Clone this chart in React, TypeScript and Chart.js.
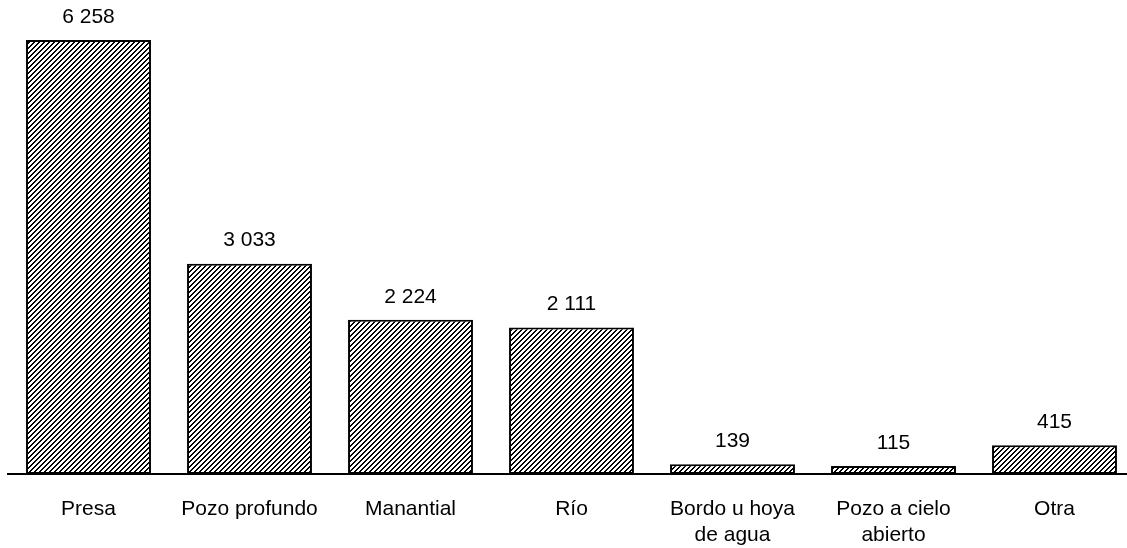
import React, { useEffect, useRef } from "react";
import { Chart, registerables } from "chart.js";

Chart.register(...registerables);

const categories: (string | string[])[] = [
  "Presa",
  "Pozo profundo",
  "Manantial",
  "Río",
  ["Bordo u hoya", "de agua"],
  ["Pozo a cielo", "abierto"],
  "Otra",
];
const values: number[] = [6258, 3033, 2224, 2111, 139, 115, 415];

const FONT = "'Liberation Sans', Arial, sans-serif";

function makePattern(): CanvasPattern | string {
  const size = 5;
  const c = document.createElement("canvas");
  c.width = size;
  c.height = size;
  const ctx = c.getContext("2d");
  if (!ctx) return "#888";
  ctx.fillStyle = "#fff";
  ctx.fillRect(0, 0, size, size);
  ctx.fillStyle = "#000";
  for (let x = 0; x < size; x++) {
    for (let y = 0; y < size; y++) {
      const k = (x + y) % size;
      if (k === 0 || k === 1) ctx.fillRect(x, y, 1, 1);
    }
  }
  const p = ctx.createPattern(c, "repeat");
  return p || "#888";
}

const fmt = (v: number) => v.toString().replace(/\B(?=(\d{3})+(?!\d))/g, " ");

const valueLabels = {
  id: "valueLabels",
  afterDatasetsDraw(chart: any) {
    const ctx = chart.ctx;
    const meta = chart.getDatasetMeta(0);
    ctx.save();
    ctx.font = `21px ${FONT}`;
    ctx.fillStyle = "#000";
    ctx.textAlign = "center";
    ctx.textBaseline = "middle";
    meta.data.forEach((bar: any, i: number) => {
      ctx.fillText(fmt(values[i]), bar.x, bar.y - 23);
    });
    ctx.restore();
  },
};

export default function App() {
  const ref = useRef<HTMLCanvasElement>(null);
  useEffect(() => {
    if (!ref.current) return;
    const chart = new Chart(ref.current, {
      type: "bar",
      data: {
        labels: categories,
        datasets: [
          {
            data: values,
            backgroundColor: makePattern() as any,
            borderColor: "#000",
            borderWidth: 2,
            borderSkipped: false,
            categoryPercentage: 1,
            barPercentage: 0.776,
          },
        ],
      },
      options: {
        animation: false,
        responsive: false,
        layout: { padding: { left: 8, right: 0, top: 0, bottom: 0 } },
        plugins: { legend: { display: false }, tooltip: { enabled: false } },
        scales: {
          x: {
            grid: { display: false, drawTicks: false },
            border: { display: true, color: "#000", width: 2 },
            ticks: {
              color: "#000",
              font: { family: FONT, size: 21, lineHeight: 1.25 },
              padding: 22,
              maxRotation: 0,
              autoSkip: false,
            },
            afterFit: (s: any) => {
              s.height = 74;
            },
          },
          y: { display: false, min: 0, max: 6835 },
        },
      },
      plugins: [valueLabels],
    });
    return () => chart.destroy();
  }, []);
  return (
    <div
      style={{
        position: "fixed",
        left: 0,
        top: 0,
        width: 1127,
        height: 548,
        overflow: "hidden",
        background: "#fff",
      }}
    >
      <canvas ref={ref} width={1135} height={548} style={{ display: "block" }} />
    </div>
  );
}
